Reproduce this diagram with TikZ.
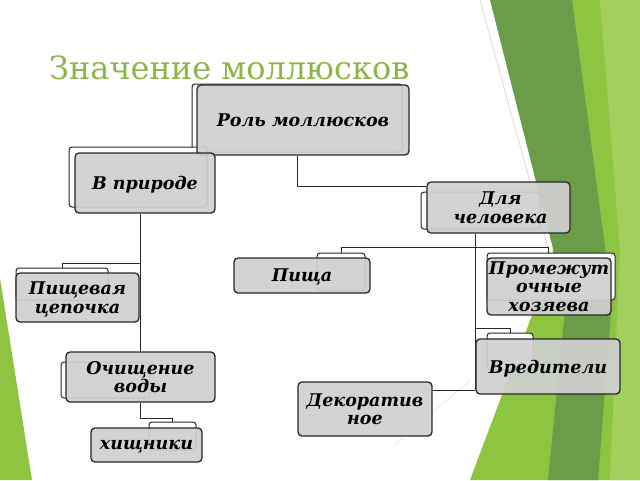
\documentclass[tikz,border=0pt]{standalone}
\usepackage{fontspec}
\setmainfont{DejaVu Serif}
\definecolor{titlegreen}{RGB}{141,182,72}
\definecolor{lime}{RGB}{141,196,64}
\definecolor{limelight}{RGB}{163,208,92}
\definecolor{darkgreen}{RGB}{106,156,74}
\definecolor{boxgray}{RGB}{208,208,208}
\definecolor{edge}{RGB}{40,40,40}
\tikzset{
  mainbox/.style={draw=edge, line width=1.3pt, rounded corners=4pt, fill=boxgray, fill opacity=0.92, text opacity=1, inner sep=0pt, text depth=0pt, align=center, font=\bfseries\itshape\fontsize{17.5}{18.5}\selectfont},
  ghostbox/.style={draw=edge, line width=1pt, rounded corners=3pt, fill=white, inner sep=0pt},
  conn/.style={draw=edge, line width=1pt}
}
\begin{document}
\begin{tikzpicture}[x=1pt,y=-1pt]
\fill[white] (0,0) rectangle (640,480);
\useasboundingbox (0,0) rectangle (640,480);
% background shapes
\fill[lime] (0,278) -- (32,480) -- (0,480) -- cycle;
\fill[lime] (568,0) -- (640,0) -- (640,480) -- (470,480) -- (552,262) -- cycle;
\fill[limelight] (600,0) -- (640,0) -- (640,480) -- (610,480) -- (620,250) -- cycle;
\fill[darkgreen] (490,0) -- (572,0) -- (612,300) -- (598,480) -- (548,480) -- (566,300) -- cycle;
\draw[gray!40, line width=0.5pt] (480,0) -- (552,262);
\draw[gray!25, line width=0.5pt] (470,380) -- (395,445);
% title
\node[anchor=base west, text=titlegreen, font=\fontsize{32}{36}\selectfont, inner sep=0pt] (title) at (49,79) {Значение моллюсков};
% ghost boxes
\node[ghostbox, minimum width=210, minimum height=68] (g1) at (297,118) {};
\node[ghostbox, minimum width=138, minimum height=60] (g2) at (138,177) {};
\node[ghostbox, minimum width=119, minimum height=37] (g3) at (480.5,210.5) {};
\node[ghostbox, minimum width=92, minimum height=32] (g4) at (62,284) {};
\node[ghostbox, minimum width=48, minimum height=37] (g5) at (341,271.5) {};
\node[ghostbox, minimum width=128, minimum height=47] (g6) at (551,276.5) {};
\node[ghostbox, minimum width=89, minimum height=36] (g7) at (105.5,380) {};
\node[ghostbox, minimum width=47, minimum height=28] (g8) at (172.5,436) {};
\node[ghostbox, minimum width=46, minimum height=37] (g9) at (510,351.5) {};
% connectors
\coordinate (jr) at (297,186);
\coordinate (jn1) at (140,263);
\coordinate (jn2) at (140,418);
\coordinate (jm1) at (475,247);
\coordinate (jm2) at (475,328);
\coordinate (jm3) at (475,390);
% main boxes
\node[mainbox, minimum width=212, minimum height=70] (role) at (303,120) {Роль моллюсков};
\node[mainbox, minimum width=140, minimum height=60] (nature) at (145,183) {В природе};
\node[mainbox, minimum width=143, minimum height=51] (human) at (498.5,207.5) {\hspace*{4pt}Для\\\hspace*{4pt}человека};
\draw[conn] (role.south -| jr) -- (jr) -- (jr -| human.west);
\draw[conn] (nature.south -| jn1) -- (jn1) -- (jn1 -| g4) -- (g4.north);
\draw[conn] (jn1) -- (jn2 |- 0,352);
\draw[conn] (human.south -| jm1) -- (jm3);
\draw[conn] (jm1) -- (jm1 -| g5) -- (g5.north);
\draw[conn] (jm1) -- (jm1 -| 548,0) -- (548,253);
\draw[conn] (jm2) -- (jm2 -| g9) -- (g9.north);
\node[mainbox, minimum width=123, minimum height=49] (food) at (77.5,297.5) {Пищевая\\цепочка};
\node[mainbox, minimum width=136, minimum height=35] (eat) at (302,275.5) {Пища};
\node[mainbox, minimum width=124, minimum height=57] (host) at (549,286.5) {Промежут\\очные\\хозяева};
\node[mainbox, minimum width=149, minimum height=50] (clean) at (140.5,377) {Очищение\\воды};
\draw[conn] (clean.south -| jn2) -- (jn2) -- (jn2 -| g8) -- (g8.north);
\node[mainbox, minimum width=111, minimum height=34] (pred) at (146.5,445) {хищники};
\node[mainbox, minimum width=144, minimum height=55] (pest) at (548,366.5) {Вредители};
\node[mainbox, minimum width=134, minimum height=54] (deco) at (365,409) {Декоратив\\ное};
\draw[conn] (jm3) -- (jm3 -| deco.east);
\end{tikzpicture}
\end{document}
